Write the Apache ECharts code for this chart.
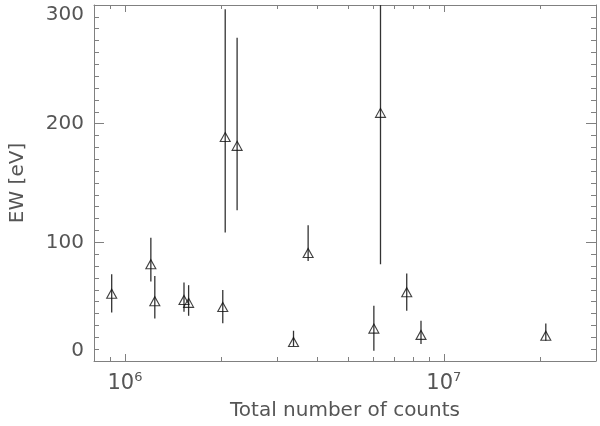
<!DOCTYPE html>
<html>
<head>
<meta charset="utf-8">
<script src="https://cdn.jsdelivr.net/npm/echarts@6/dist/echarts.min.js"></script>
<style>
  html, body { margin: 0; padding: 0; background: #fff; }
  #chart { width: 600px; height: 426px; }
</style>
</head>
<body>
<div id="chart"></div>
<script>
// total counts per source (x, log scale)
var counts = [9.09e5, 1.206e6, 1.241e6, 1.532e6, 1.584e6, 2.027e6, 2.063e6, 2.248e6,
              3.378e6, 3.754e6, 6.034e6, 6.33e6, 7.65e6, 8.48e6, 2.088e7];
// equivalent width [eV] and the ends of its error bar
var ew     = [56.7, 81.5, 50.4, 51.4, 49.0, 45.5, 188.7, 181.3, 16.0, 91.0, 27.3, 209.1, 58.0, 22.0, 21.3];
var ewLow  = [40.9, 67.0, 35.9, 41.4, 38.1, 31.9, 108.2, 127.1, 12.4, 84.3, 8.7, 81.5, 42.3, 14.3, 17.1];
var ewHigh = [73.1, 103.9, 71.7, 66.1, 63.9, 59.9, 296.4, 272.5, 25.5, 114.5, 46.5, 330, 73.7, 33.9, 31.7];

// tick marks
var xMajorTicks = [1e6, 1e7];
var xMinorTicks = [9e5, 2e6, 3e6, 4e6, 5e6, 6e6, 7e6, 8e6, 9e6, 2e7];

var axisColor = '#808080';
var textColor = '#555';
var font = 'DejaVu Sans';

var chart = echarts.init(document.getElementById('chart'), null, { renderer: 'canvas' });

var points = [];
for (var i = 0; i < counts.length; i++) {
  points.push([counts[i], ew[i], ewLow[i], ewHigh[i]]);
}

// one x axis per tick set and side (major/minor, bottom/top)
function xAxisCfg(position, ticks, len, withLine, withLabel) {
  var cfg = {
    type: 'log',
    logBase: 10,
    min: 8e5,
    max: 3e7,
    position: position,
    axisLine: { show: withLine, lineStyle: { color: axisColor, width: 1 } },
    axisTick: { show: true, inside: true, length: len, customValues: ticks,
                lineStyle: { color: axisColor, width: 1 } },
    axisLabel: { show: false },
    splitLine: { show: false }
  };
  if (withLabel) {
    cfg.axisLabel = {
      show: true,
      customValues: ticks,
      margin: 10,
      formatter: function (v) {
        var e = Math.round(Math.log10(v));
        return '{b|10}{s|' + e + '}';
      },
      rich: {
        b: { fontFamily: font, fontSize: 21, color: textColor, lineHeight: 26 },
        s: { fontFamily: font, fontSize: 13, color: textColor, verticalAlign: 'top', lineHeight: 26 }
      }
    };
    cfg.name = 'Total number of counts';
    cfg.nameLocation = 'middle';
    cfg.nameGap = 40;
    cfg.nameTextStyle = { fontFamily: font, fontSize: 20, color: textColor };
  }
  return cfg;
}

function yAxisCfg(position, withLabel) {
  var cfg = {
    type: 'value',
    min: 0,
    max: 300,
    interval: 100,
    position: position,
    axisLine: { show: true, lineStyle: { color: axisColor, width: 1 } },
    axisTick: { show: true, inside: true, length: 10, lineStyle: { color: axisColor } },
    minorTick: { show: true, splitNumber: 10, length: 5, lineStyle: { color: axisColor } },
    axisLabel: { show: false },
    splitLine: { show: false },
    minorSplitLine: { show: false }
  };
  if (withLabel) {
    cfg.axisLabel = {
      show: true,
      margin: 10,
      fontFamily: font,
      fontSize: 20,
      color: textColor,
      verticalAlignMinLabel: 'bottom',
      verticalAlignMaxLabel: 'top'
    };
    cfg.name = 'EW [eV]';
    cfg.nameLocation = 'middle';
    cfg.nameGap = 66;
    cfg.nameTextStyle = { fontFamily: font, fontSize: 20, color: textColor };
  }
  return cfg;
}

var option = {
  animation: false,
  backgroundColor: '#fff',
  grid: { left: 93, right: 4, top: 5, bottom: 64, containLabel: false },
  xAxis: [
    xAxisCfg('bottom', xMajorTicks, 7, true, true),
    xAxisCfg('bottom', xMinorTicks, 4, false, false),
    xAxisCfg('top', xMajorTicks, 7, true, false),
    xAxisCfg('top', xMinorTicks, 4, false, false)
  ],
  yAxis: [
    yAxisCfg('left', true),
    yAxisCfg('right', false)
  ],
  series: [
    {
      name: 'error',
      type: 'custom',
      xAxisIndex: 0,
      yAxisIndex: 0,
      clip: true,
      data: points,
      encode: { x: 0, y: [2, 3] },
      renderItem: function (params, api) {
        var lo = api.coord([api.value(0), api.value(2)]);
        var hi = api.coord([api.value(0), api.value(3)]);
        return {
          type: 'line',
          shape: { x1: lo[0], y1: lo[1], x2: hi[0], y2: hi[1] },
          style: { stroke: '#333', lineWidth: 1.3 }
        };
      }
    },
    {
      name: 'EW',
      type: 'scatter',
      xAxisIndex: 0,
      yAxisIndex: 0,
      symbol: 'triangle',
      symbolSize: [10, 9],
      itemStyle: { color: 'rgba(0,0,0,0)', borderColor: '#111', borderWidth: 1.1 },
      data: points
    }
  ]
};

chart.setOption(option);
</script>
</body>
</html>
